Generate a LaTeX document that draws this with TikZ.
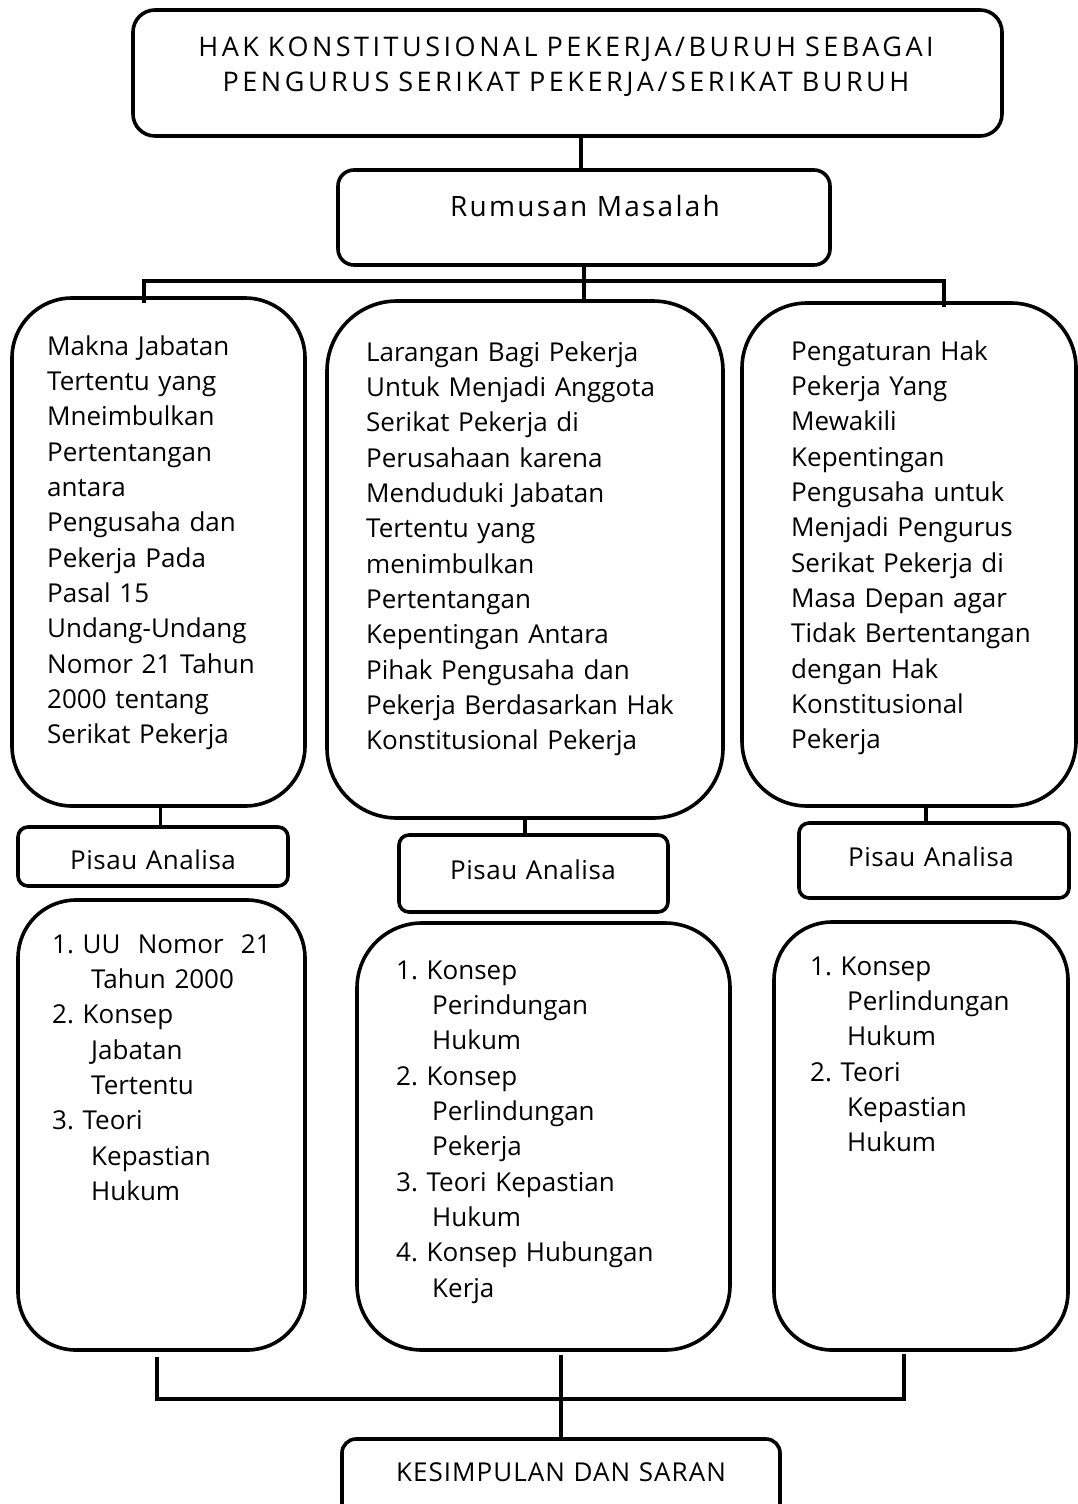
\documentclass[tikz,border=0pt]{standalone}
\usepackage{fontspec}
\setmainfont{Open Sans}
\newcommand{\myfs}{\fontsize{26}{35.35}\selectfont}
\begin{document}
\begin{tikzpicture}[x=1pt,y=-1pt,
  box/.style={draw, line width=3.6pt, rounded corners=#1, inner sep=0pt},
  con/.style={line width=3.4pt},
  txt/.style={inner sep=0pt, font=\myfs, align=left},
  ctxt/.style={inner sep=0pt, font=\myfs, align=center}]
\clip (0,0) rectangle (1078,1504);
\fill[white] (0,0) rectangle (1078,1504);

% boxes
\node[box=22pt, minimum width=869pt, minimum height=126pt] (ttl) at (567.5,73) {};
\node[box=16pt, minimum width=492pt, minimum height=95pt] (rum) at (584,217.5) {};
\node[box=60pt, minimum width=293pt, minimum height=508pt] (L1) at (158.5,552) {};
\node[box=70pt, minimum width=396pt, minimum height=517pt] (M1) at (525,559.5) {};
\node[box=65pt, minimum width=334pt, minimum height=503pt] (R1) at (909,554.5) {};
\node[box=10pt, minimum width=270pt, minimum height=59pt] (PL) at (153,856.5) {};
\node[box=10pt, minimum width=269pt, minimum height=77pt] (PM) at (533.5,873.5) {};
\node[box=10pt, minimum width=270pt, minimum height=75pt] (PR) at (934,860.5) {};
\node[box=58pt, minimum width=287pt, minimum height=450pt] (L2) at (161.5,1125) {};
\node[box=65pt, minimum width=373pt, minimum height=427pt] (M2) at (543.5,1136.5) {};
\node[box=58pt, minimum width=294pt, minimum height=428pt] (R2) at (921,1136) {};
\node[box=14pt, minimum width=438pt, minimum height=100pt] (K) at (561,1489) {};

% connectors
\coordinate (busL) at (144,281);
\coordinate (busR) at (944,281);
\coordinate (botL) at (157,1399);
\coordinate (botR) at (904,1399);
\draw[con] ([xshift=-3pt]rum.north |- ttl.south) -- ([xshift=-3pt]rum.north);
\draw[con] (rum.south) -- ([yshift=-3pt]rum.south |- M1.north);
\draw[con] ([yshift=-7pt]busL |- L1.north) -- (busL) -- (busR) -- ([yshift=-6pt]busR |- R1.north);
\draw[con] ([xshift=2pt]L1.south) -- ([xshift=2pt]L1.south |- PL.north);
\draw[con] (M1.south) -- (M1.south |- PM.north);
\draw[con] ([xshift=17pt]R1.south) -- ([xshift=17pt]R1.south |- PR.north);
\draw[con] ([yshift=-5pt]botL |- L2.south) -- (botL) -- (botR) -- ([yshift=-2pt]botR |- R2.south);
\draw[con] ([yshift=-3pt]K.north |- M2.south) -- (K.north);

% texts
\node[ctxt, text width=860pt, anchor=base, font=\fontsize{27}{34}\selectfont\addfontfeature{LetterSpace=13}] (ttlt) at (566,57)
  {HAK KONSTITUSIONAL PEKERJA/BURUH SEBAGAI\\PENGURUS SERIKAT PEKERJA/SERIKAT BURUH};
\node[ctxt, text width=480pt, anchor=base, font=\fontsize{28}{34}\selectfont\addfontfeature{LetterSpace=8}] (rumt) at (585,216) {Rumusan Masalah};

\node[txt, text width=255pt, anchor=base west] (L1t) at (47,355)
  {Makna Jabatan\\Tertentu yang\\Mneimbulkan\\Pertentangan\\antara\\Pengusaha dan\\Pekerja Pada\\Pasal 15\\Undang-Undang\\Nomor 21 Tahun\\2000 tentang\\Serikat Pekerja};
\node[txt, text width=350pt, anchor=base west] (M1t) at (366,361)
  {Larangan Bagi Pekerja\\Untuk Menjadi Anggota\\Serikat Pekerja di\\Perusahaan karena\\Menduduki Jabatan\\Tertentu yang\\menimbulkan\\Pertentangan\\Kepentingan Antara\\Pihak Pengusaha dan\\Pekerja Berdasarkan Hak\\Konstitusional Pekerja};
\node[txt, text width=280pt, anchor=base west] (R1t) at (791,360)
  {Pengaturan Hak\\Pekerja Yang\\Mewakili\\Kepentingan\\Pengusaha untuk\\Menjadi Pengurus\\Serikat Pekerja di\\Masa Depan agar\\Tidak Bertentangan\\dengan Hak\\Konstitusional\\Pekerja};

\node[ctxt, text width=260pt, anchor=base, font=\myfs\addfontfeature{LetterSpace=2}] (PLt) at (153,869) {Pisau Analisa};
\node[ctxt, text width=260pt, anchor=base, font=\myfs\addfontfeature{LetterSpace=2}] (PMt) at (533,879) {Pisau Analisa};
\node[ctxt, text width=260pt, anchor=base, font=\myfs\addfontfeature{LetterSpace=2}] (PRt) at (931,866) {Pisau Analisa};

\node[txt, text width=250pt, anchor=base west] (L2t) at (52,953)
  {1.\ UU\ \ Nomor\ \ 21\\\hspace*{39pt}Tahun 2000\\2.\ Konsep\\\hspace*{39pt}Jabatan\\\hspace*{39pt}Tertentu\\3.\ Teori\\\hspace*{39pt}Kepastian\\\hspace*{39pt}Hukum};
\node[txt, text width=320pt, anchor=base west] (M2t) at (396,979)
  {1.\ Konsep\\\hspace*{36pt}Perindungan\\\hspace*{36pt}Hukum\\2.\ Konsep\\\hspace*{36pt}Perlindungan\\\hspace*{36pt}Pekerja\\3.\ Teori Kepastian\\\hspace*{36pt}Hukum\\4.\ Konsep Hubungan\\\hspace*{36pt}Kerja};
\node[txt, text width=250pt, anchor=base west] (R2t) at (810,975)
  {1.\ Konsep\\\hspace*{37pt}Perlindungan\\\hspace*{37pt}Hukum\\2.\ Teori\\\hspace*{37pt}Kepastian\\\hspace*{37pt}Hukum};

\node[ctxt, text width=420pt, anchor=base, font=\myfs\addfontfeature{LetterSpace=4}] (Kt) at (561,1481) {KESIMPULAN DAN SARAN};
\end{tikzpicture}
\end{document}
